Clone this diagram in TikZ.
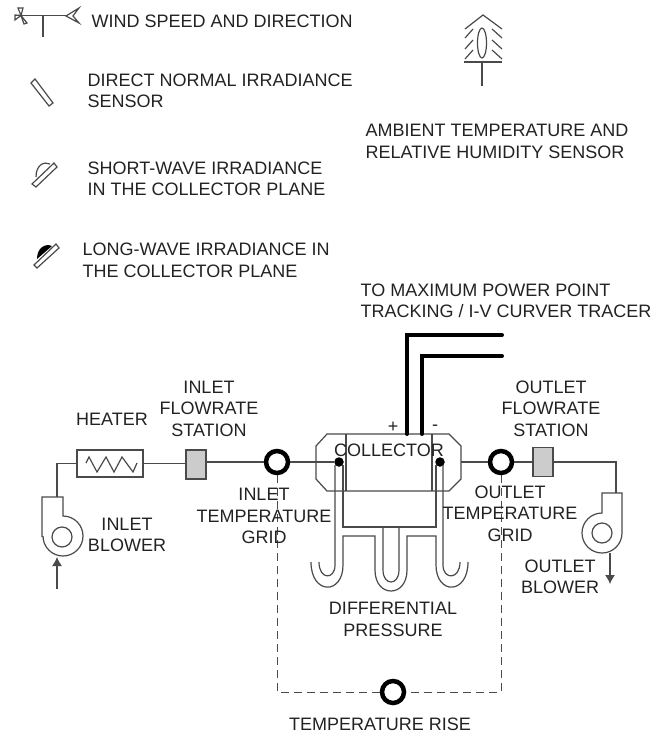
\documentclass[tikz,border=0pt]{standalone}
\usepackage{fontspec}
\usetikzlibrary{arrows.meta}
\setmainfont{Liberation Sans}
\definecolor{linegray}{HTML}{4A4A4A}
\definecolor{textgray}{HTML}{222222}
\definecolor{stationgray}{HTML}{CCCCCC}
\begin{document}
\begin{tikzpicture}[x=1pt, y=-1pt, line width=1.2pt,
        pipe/.style={draw=linegray},
        signal/.style={draw=linegray, line width=1pt, dash pattern=on 8pt off 5pt},
        textlabel/.style={text=textgray, inner sep=0pt, align=center, font=\fontsize{18}{21.5}\selectfont},
        legend/.style={textlabel, anchor=west, align=left},
        station/.style={draw=linegray, fill=stationgray, minimum width=20pt, minimum height=29pt, inner sep=0pt},
        gridring/.style={circle, draw=black, line width=4.5pt, minimum size=22pt, inner sep=0pt},
        dot/.style={circle, fill=black, minimum size=9.5pt, inner sep=0pt},
        plate/.style={draw=linegray, fill=white}]
        \useasboundingbox (0,0) rectangle (652,735);
        % Legend symbols
        \draw[pipe] (15,15.5) -- (66,15.5) (43,15.5) -- (43,37);
        \draw[pipe] (79,8) -- (66,16) -- (79,23) -- (73,16) -- cycle;
        \draw[pipe] (21,15.5) -- (18,8) -- (23,8) -- cycle (21,15.5) -- (24,24) -- (27,23) -- cycle (21,15.5) -- (15,15) -- (15,20) -- cycle;
        \draw[plate] (31,83) -- (35,79) -- (53,103) -- (49,106) -- cycle;
        \draw[pipe] (36,177) .. controls (36,165) and (44,161) .. (50,164);
        \draw[plate] (32,184) -- (36,187) -- (57,167) -- (54,163) -- cycle;
        \fill[black] (37,259) .. controls (37,248) and (45,243) .. (52,246) -- cycle;
        \draw[plate] (34,265) -- (37,268) -- (59,248) -- (56,244) -- cycle;
        % Ambient sensor
        \draw[pipe] (465,29) -- (483,15) -- (502,29);
        \foreach \y in {38,49,59} {
            \draw[pipe] (465,\y) -- (473,\y-9);
            \draw[pipe] (502,\y) -- (492,\y-9);
        }
        \draw[pipe] (482,43) ellipse (4.5 and 15);
        \draw[pipe] (464,62) -- (502,62) (482,62) -- (482,86);
        % Legend text
        \node[legend] (windtext) at (91,21) {WIND SPEED AND DIRECTION};
        \node[legend] (directtext) at (87,91) {DIRECT NORMAL IRRADIANCE\\SENSOR};
        \node[legend] (shorttext) at (87,179) {SHORT-WAVE IRRADIANCE\\IN THE COLLECTOR PLANE};
        \node[legend] (longtext) at (82,260.5) {LONG-WAVE IRRADIANCE IN\\THE COLLECTOR PLANE};
        \node[legend] (ambienttext) at (365,141.5) {AMBIENT TEMPERATURE AND\\RELATIVE HUMIDITY SENSOR};
        \node[legend] (tracertext) at (360,301) {TO MAXIMUM POWER POINT\\TRACKING / I-V CURVER TRACER};
        % Flow line
        \node[draw=linegray, minimum width=66pt, minimum height=27pt, inner sep=0pt] (heater) at (110,463.5) {};
        \node[station] (inletstation) at (196,464.5) {};
        \node[station] (outletstation) at (543,462) {};
        \foreach \name/\x/\y in {inletgrid/277/462, outletgrid/501/462, risegrid/393/692} \node[gridring] (\name) at (\x,\y) {};
        \foreach \name/\x in {inletdot/339, outletdot/440} \node[dot] (\name) at (\x,462) {};
        \coordinate (collectorout) at (461,462);
        \coordinate (outletturn) at (616,462);
        \coordinate (inletturn) at (57,463.5);
        \coordinate (inletblowertop) at (57,497);
        \coordinate (outletblowertop) at (616,493);
        \draw[pipe] (inletblowertop) -- (inletturn) -- (heater.west);
        \draw[pipe] (heater.east) -- (inletstation.west |- heater.east);
        \draw[pipe] (inletstation.east |- inletgrid) -- (inletgrid);
        \draw[pipe] (inletgrid) -- (inletdot);
        \draw[pipe] (collectorout) -- (outletgrid);
        \draw[pipe] (outletgrid) -- (outletstation);
        \draw[pipe] (outletstation) -- (outletturn) -- (outletblowertop);
        % Heater coil
        \draw[pipe] (86,463) -- (89,457) -- (97,472) -- (106,457) -- (114,472) -- (122,457) -- (133,472) -- (137,463);
        % Blowers
        \draw[pipe] (42,537) -- (42,497) -- (63,497) -- (63,516) arc[start angle=90, end angle=-180, radius=20pt];
        \draw[pipe] (622,533) -- (622,493) -- (602,493) -- (602,513) arc[start angle=90, end angle=360, radius=20pt];
        \node[circle, draw=linegray, minimum size=20pt, inner sep=0pt] (inletfan) at (62,537) {};
        \node[circle, draw=linegray, minimum size=20pt, inner sep=0pt] (outletfan) at (602,533) {};
        \coordinate (inletair) at (57,589);
        \coordinate (outletair) at (610,584);
        \draw[pipe, -{Latex[length=9pt, width=10pt]}] (inletair) -- (57,557);
        \draw[pipe, -{Latex[length=9pt, width=10pt]}] (610,553) -- (outletair);
        % Collector
        \draw[pipe] (327,434) -- (449,434) -- (461,446) -- (461,479) -- (449,491) -- (327,491) -- (316,479) -- (316,446) -- cycle;
        \draw[pipe] (346,434) -- (346,491) (432,434) -- (432,491);
        % Power leads
        \coordinate (plusend) at (407,434);
        \coordinate (minusend) at (422,434);
        \draw[line width=4pt, black, line cap=round] (plusend) -- (407,335) -- (502,335);
        \draw[line width=4pt, black, line cap=round] (minusend) -- (422,356) -- (502,356);
        \node[textlabel] (plus) at (393,427) {+};
        \node[textlabel] (minus) at (435,428) {-};
        % Differential pressure tubes
        \draw[pipe] (335,465) -- (335,565) .. controls (335,580) and (319,580) .. (319,562);
        \draw[pipe] (443,465) -- (443,565) .. controls (443,580) and (460,580) .. (460,562);
        \draw[pipe] (343,465) -- (343,527) -- (436,527) -- (436,465);
        \draw[pipe] (383,527) -- (383,570) .. controls (383,586) and (399,586) .. (399,570) -- (399,527);
        \draw[pipe] (311,562) .. controls (311,595) and (343,595) .. (343,565) -- (343,536) -- (375,536) -- (375,570) .. controls (375,598) and (407,598) .. (407,570) -- (407,536) -- (436,536) -- (436,565) .. controls (436,595) and (468,595) .. (468,562);
        % Temperature rise
        \coordinate (riseleft) at (277,692);
        \coordinate (riseright) at (501,692);
        \draw[signal] (inletgrid) -- (riseleft) -- (risegrid);
        \draw[signal] (outletgrid) -- (riseright) -- (risegrid);
        % Labels
        \node[textlabel] (heatertext) at (112,419) {HEATER};
        \node[textlabel] (inletstationtext) at (209,408.5) {INLET\\FLOWRATE\\STATION};
        \node[textlabel] (outletstationtext) at (551,408.5) {OUTLET\\FLOWRATE\\STATION};
        \node[textlabel] (inletgridtext) at (264,516) {INLET\\TEMPERATURE\\GRID};
        \node[textlabel] (outletgridtext) at (510,513.5) {OUTLET\\TEMPERATURE\\GRID};
        \node[textlabel] (inletblowertext) at (127,535) {INLET\\BLOWER};
        \node[textlabel] (outletblowertext) at (560,577) {OUTLET\\BLOWER};
        \node[textlabel] (collectortext) at (389,450) {COLLECTOR};
        \node[textlabel] (pressuretext) at (393,619.5) {DIFFERENTIAL\\PRESSURE};
        \node[textlabel] (risetext) at (380,724) {TEMPERATURE RISE};
    \end{tikzpicture}
\end{document}
